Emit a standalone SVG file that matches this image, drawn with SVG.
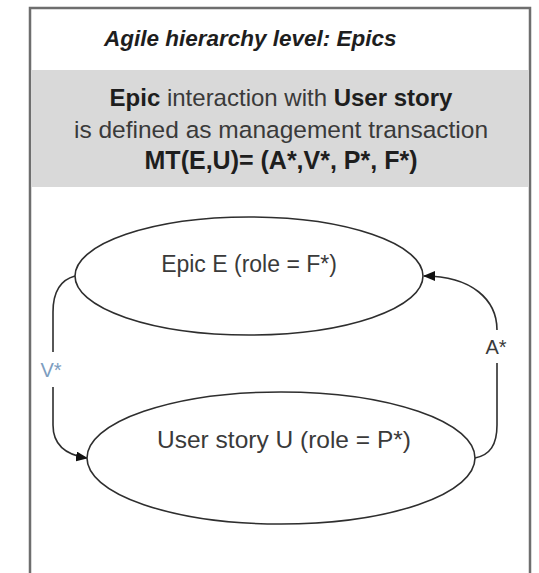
<svg xmlns="http://www.w3.org/2000/svg" width="539" height="573" viewBox="0 0 539 573">
<defs>
<style>
.t{font-family:"Liberation Sans",Arial,sans-serif;fill:#3a3a3a}
.b{font-weight:bold;fill:#1e1e1e}
.node{fill:#fff;stroke:#2e2e2e;stroke-width:1.6}
.edge{fill:none;stroke:#2e2e2e;stroke-width:1.6}
</style>
<marker id="arr" viewBox="0 0 12 10" refX="11" refY="5" markerWidth="12" markerHeight="10" markerUnits="userSpaceOnUse" orient="auto">
<path d="M0,0 L12,5 L0,10 Z" fill="#111"/>
</marker>
</defs>
<rect x="0" y="0" width="539" height="573" fill="#fff"/>
<g id="frame">
<rect x="30" y="8" width="500" height="580" fill="#fff" stroke="#6e6e6e" stroke-width="2.5"/>
<rect x="31.5" y="70" width="497" height="117" fill="#d9d9d9"/>
<text class="t b" x="104" y="46" font-size="22.5" font-style="italic">Agile hierarchy level: Epics</text>
<text class="t" x="281" y="106" font-size="24" text-anchor="middle"><tspan class="b">Epic</tspan> interaction with <tspan class="b">User story</tspan></text>
<text class="t" x="281" y="137.5" font-size="24.5" text-anchor="middle">is defined as management transaction</text>
<text class="t b" x="281" y="169" font-size="25" text-anchor="middle">MT(E,U)= (A*,V*, P*, F*)</text>
</g>
<g id="connectors">
<path class="edge" d="M75,276 C60,280 53,292 53,312 L53,352 M53,387 L53,425 C53,445 66,455 87,458" marker-end="url(#arr)"/>
<path class="edge" d="M475,458 C490,455 497,445 497,425 L497,363 M497,330 C497,300 472,276 424,276" marker-end="url(#arr)"/>
<text class="t" x="51" y="377" font-size="20" text-anchor="middle" style="fill:#7d9dbf">V*</text>
<text class="t" x="496" y="354" font-size="20" text-anchor="middle" style="fill:#3a3a3a">A*</text>
</g>
<g id="epic">
<ellipse class="node" cx="249" cy="276" rx="174" ry="59"/>
<text class="t" x="249" y="272" font-size="23" text-anchor="middle">Epic E (role = F*)</text>
</g>
<g id="userstory">
<ellipse class="node" cx="281" cy="458" rx="194" ry="66"/>
<text class="t" x="284" y="448" font-size="24.5" text-anchor="middle">User story U (role = P*)</text>
</g>
</svg>
